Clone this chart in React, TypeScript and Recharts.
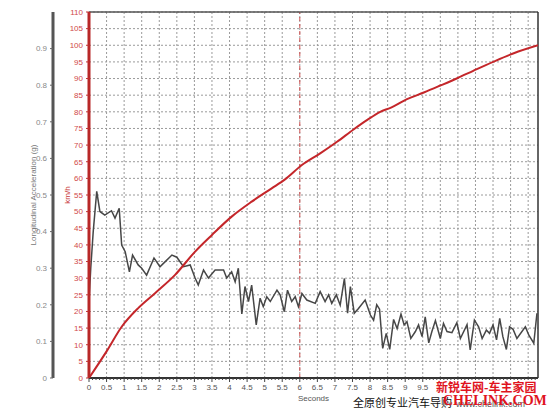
import {
  ComposedChart,
  Line,
  XAxis,
  YAxis,
  CartesianGrid,
  ReferenceLine,
} from "recharts";

// longitudinal acceleration trace (seconds, g)
const accelTime = [
  0, 0.05, 0.12, 0.22, 0.31, 0.45, 0.64, 0.74, 0.86, 0.93, 1.03, 1.15, 1.24, 1.4,
  1.5, 1.64, 1.85, 2.02, 2.17, 2.36, 2.5, 2.69, 2.88, 3.02, 3.11, 3.26, 3.4, 3.59,
  3.83, 3.92, 4.06, 4.16, 4.25, 4.35, 4.44, 4.54, 4.63, 4.76, 4.87, 4.96, 5.06,
  5.16, 5.35, 5.44, 5.56, 5.65, 5.77, 5.87, 5.96, 6.06, 6.2, 6.44, 6.58, 6.72,
  6.82, 6.91, 7.04, 7.15, 7.27, 7.36, 7.44, 7.55, 7.67, 7.86, 8.01, 8.1, 8.19,
  8.27, 8.36, 8.46, 8.56, 8.67, 8.77, 8.88, 8.97, 9.05, 9.16, 9.29, 9.38, 9.48,
  9.57, 9.67, 9.76, 9.86, 10.0, 10.09, 10.19, 10.33, 10.47, 10.57, 10.76, 10.85,
  10.97, 11.09, 11.19, 11.31, 11.4, 11.5, 11.6, 11.69, 11.78, 11.88, 11.97,
  12.07, 12.18, 12.42, 12.52, 12.66, 12.75,
];
const accelG = [
  0.21, 0.3, 0.4, 0.51, 0.455, 0.445, 0.457, 0.437, 0.464, 0.363, 0.345, 0.29,
  0.336, 0.309, 0.3, 0.281, 0.328, 0.304, 0.318, 0.336, 0.33, 0.304, 0.309, 0.273,
  0.254, 0.295, 0.273, 0.295, 0.295, 0.273, 0.29, 0.263, 0.3, 0.175, 0.25, 0.209,
  0.254, 0.145, 0.218, 0.195, 0.222, 0.209, 0.24, 0.227, 0.181, 0.24, 0.209,
  0.222, 0.195, 0.231, 0.213, 0.204, 0.236, 0.209, 0.227, 0.204, 0.227, 0.199,
  0.272, 0.177, 0.25, 0.177, 0.19, 0.213, 0.172, 0.158, 0.2, 0.188, 0.081, 0.122,
  0.078, 0.16, 0.135, 0.175, 0.145, 0.154, 0.108, 0.127, 0.145, 0.113, 0.167,
  0.096, 0.127, 0.157, 0.108, 0.149, 0.127, 0.124, 0.151, 0.108, 0.146, 0.077,
  0.158, 0.14, 0.108, 0.131, 0.122, 0.145, 0.104, 0.163, 0.113, 0.078, 0.14,
  0.133, 0.108, 0.14, 0.117, 0.095, 0.177,
];

// vehicle speed (seconds, km/h)
const speedTime = [
  0, 0.5, 0.93, 1.4, 1.88, 2.45, 3.02, 3.5, 4.06, 4.63, 5.2, 5.58, 6.06, 6.58,
  7.06, 7.53, 7.91, 8.29, 8.58, 9.05, 9.53, 10.0, 10.48, 10.95, 11.52, 12.09,
  12.78,
];
const speedKmh = [
  0, 8, 15.4, 21, 25.5, 31, 38, 43, 48.5, 53, 57, 59.7, 64, 67.5, 71, 74.7, 77.5,
  80, 81.2, 83.8, 85.8, 87.9, 90.1, 92.4, 95.1, 97.6, 100,
];

const secondTicks = [
  0, 0.5, 1, 1.5, 2, 2.5, 3, 3.5, 4, 4.5, 5, 5.5, 6, 6.5, 7, 7.5, 8, 8.5, 9, 9.5,
  10, 10.5, 11, 11.5, 12, 12.5,
];
const gTicks = [0, 0.1, 0.2, 0.3, 0.4, 0.5, 0.6, 0.7, 0.8, 0.9];
const kmhTicks = [
  0, 5, 10, 15, 20, 25, 30, 35, 40, 45, 50, 55, 60, 65, 70, 75, 80, 85, 90, 95,
  100, 105, 110,
];

const accelData = accelTime.map((t, i) => ({ t, g: accelG[i] }));
const speedData = speedTime.map((t, i) => ({ t, kmh: speedKmh[i] }));
// small marks every 0.1 s along the time axis
const minorTicks = Array.from({ length: 128 }, (_, i) => i / 10);

// axis ids: the speed axis sits next to the plot, acceleration axis further out
const SPEED = "s1";
const ACCEL = "s2";

function SecondsTick({ x, y, payload }: any) {
  const v = payload.value as number;
  const major = secondTicks.some((m) => Math.abs(m - v) < 1e-6);
  return (
    <g>
      <line x1={x} x2={x} y1={y} y2={y + (major ? 4 : 2)} stroke="#444" />
      {major && (
        <text x={x} y={y + 12} textAnchor="middle" fontSize={8} fill="#555">
          {v}
        </text>
      )}
    </g>
  );
}

export default function App() {
  return (
    <div
      style={{
        position: "fixed",
        top: 0,
        left: 0,
        width: 554,
        height: 415,
        background: "#fff",
        fontFamily: "'Liberation Sans', Arial, sans-serif",
      }}
    >
      <ComposedChart
        width={554}
        height={415}
        margin={{ top: 12, right: 16, left: 0, bottom: 7 }}
      >
        <CartesianGrid
          yAxisId={SPEED}
          stroke="#9a9a9a"
          strokeDasharray="2 2"
          verticalValues={secondTicks}
        />
        <XAxis
          dataKey="t"
          type="number"
          domain={[0, 12.78]}
          allowDataOverflow
          ticks={minorTicks}
          interval={0}
          tick={<SecondsTick />}
          tickLine={false}
          tickSize={0}
          tickMargin={0}
          height={30}
          axisLine={{ stroke: "#333", strokeWidth: 2 }}
          label={{
            value: "Seconds",
            position: "insideBottom",
            offset: 7,
            fontSize: 8,
            fill: "#555",
          }}
        />
        <YAxis
          yAxisId={SPEED}
          orientation="left"
          width={36}
          domain={[0, 110]}
          ticks={kmhTicks}
          interval={0}
          tickSize={3}
          tickMargin={3}
          tick={{ fontSize: 8, fill: "#d04848" }}
          tickLine={{ stroke: "#c03030" }}
          axisLine={{ stroke: "#b82828", strokeWidth: 3 }}
          label={{
            value: "km/h",
            angle: -90,
            position: "insideLeft",
            offset: 14,
            fontSize: 8,
            fill: "#c83838",
            style: { textAnchor: "middle" },
          }}
        />
        <YAxis
          yAxisId={ACCEL}
          orientation="left"
          width={53}
          domain={[0, 1]}
          ticks={gTicks}
          interval={0}
          tickSize={3}
          tickMargin={3}
          tick={{ fontSize: 8, fill: "#888" }}
          tickLine={{ stroke: "#666" }}
          axisLine={{ stroke: "#555", strokeWidth: 3 }}
          label={{
            value: "Longitudinal Acceleration (g)",
            angle: -90,
            position: "insideLeft",
            offset: 33,
            fontSize: 8,
            fill: "#777",
            style: { textAnchor: "middle" },
          }}
        />
        <ReferenceLine
          yAxisId={SPEED}
          x={6}
          stroke="#d05050"
          strokeDasharray="4 3"
        />
        <ReferenceLine yAxisId={SPEED} y={110} stroke="#555" strokeWidth={1.5} />
        <ReferenceLine yAxisId={SPEED} x={12.78} stroke="#333" strokeWidth={1.5} />
        <Line
          yAxisId={ACCEL}
          data={accelData}
          dataKey="g"
          type="linear"
          stroke="#474747"
          strokeWidth={1.5}
          dot={false}
          isAnimationActive={false}
        />
        <Line
          yAxisId={SPEED}
          data={speedData}
          dataKey="kmh"
          type="monotone"
          stroke="#c4262a"
          strokeWidth={2}
          dot={false}
          isAnimationActive={false}
        />
      </ComposedChart>

      <div
        style={{
          position: "absolute",
          left: 434,
          top: 380,
          padding: "0 2px",
          background: "#fff",
          color: "#e0141e",
          fontFamily: "'Noto Sans CJK SC', sans-serif",
          fontWeight: 700,
          fontSize: 12,
          lineHeight: "14px",
          whiteSpace: "nowrap",
        }}
      >
        新锐车网-车主家园
      </div>
      <div
        style={{
          position: "absolute",
          left: 353,
          top: 396,
          color: "#111",
          fontFamily: "'Noto Sans CJK SC', sans-serif",
          fontSize: 11,
          lineHeight: "13px",
          whiteSpace: "nowrap",
        }}
      >
        全原创专业汽车导购
      </div>
      <div
        style={{
          position: "absolute",
          left: 456,
          top: 399,
          color: "#555",
          fontSize: 9,
          lineHeight: "10px",
          whiteSpace: "nowrap",
        }}
      >
        www.chelink.com
      </div>
      <div
        style={{
          position: "absolute",
          left: 443,
          top: 393,
          color: "#e0141e",
          fontFamily: "'Liberation Serif', serif",
          fontWeight: 700,
          fontSize: 14,
          lineHeight: "15px",
          whiteSpace: "nowrap",
        }}
      >
        CHELINK.COM
      </div>
    </div>
  );
}
